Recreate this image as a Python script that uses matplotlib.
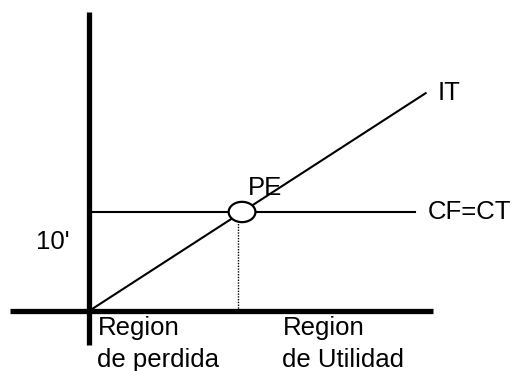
import matplotlib.pyplot as plt
from matplotlib.patches import Ellipse

# diagram values (cantidad vs. monto)
q_it = [0, 22]          # ingreso total
it = [0, 22]
q_cf = [0, 21.3]        # costo fijo = costo total
cf = [10, 10]
pe = (10, 10)           # punto de equilibrio
q_pe_line = 9.75
x_axis = [-5.15, 22.5]
y_axis = [-3.4, 30.2]

plt.rcParams['font.family'] = ['Liberation Sans', 'DejaVu Sans']
fs = 18.5

fig = plt.figure(figsize=(5.15, 3.71), dpi=100)
ax = fig.add_axes([0, 0, 1, 1])
ax.set_xlim(-5.82, 27.84)
ax.set_ylim(-6.06, 31.41)
ax.axis("off")

# ejes
ax.plot(x_axis, [0, 0], color="black", lw=3.8, solid_capstyle="butt")
ax.plot([0, 0], y_axis, color="black", lw=3.8, solid_capstyle="butt")

# lineas
ax.plot(q_it, it, color="black", lw=1.5)
ax.plot(q_cf, cf, color="black", lw=1.5)
ax.plot([q_pe_line, q_pe_line], [0, pe[1] - 1.0], color="black", lw=1, ls=(0, (1, 1)))

ax.add_patch(Ellipse(pe, 1.75, 2.05, facecolor="white", edgecolor="black", lw=1.6, zorder=3))

ax.text(22.8, 22.0, "IT", fontsize=fs, va="center", ha="left")
ax.text(22.16, 10.0, "CF=CT", fontsize=fs, va="center", ha="left")
ax.text(10.4, 12.4, "PE", fontsize=fs, va="center", ha="left")
ax.text(-3.46, 7.0, "10'", fontsize=fs, va="center", ha="left")

ax.text(0.6, -2.42, "Region", fontsize=fs, va="baseline", ha="left")
ax.text(0.55, -5.66, "de perdida", fontsize=fs, va="baseline", ha="left")
ax.text(12.7, -2.42, "Region", fontsize=fs, va="baseline", ha="left")
ax.text(12.6, -5.66, "de Utilidad", fontsize=fs, va="baseline", ha="left")

fig.savefig("out.png", dpi=100)
